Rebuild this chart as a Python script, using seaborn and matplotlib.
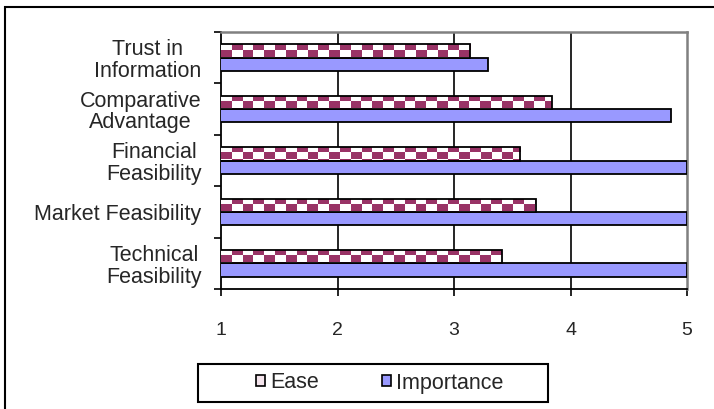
import numpy as np
import pandas as pd
import matplotlib
matplotlib.use("Agg")
import matplotlib.pyplot as plt
import seaborn as sns
from matplotlib.colors import ListedColormap
from matplotlib.patches import Patch, Rectangle

categories = ["Trust in\nInformation", "Comparative\nAdvantage", "Financial\nFeasibility",
              "Market Feasibility", "Technical\nFeasibility"]
ease = [3.14, 3.84, 3.57, 3.70, 3.41]
importance = [3.29, 4.86, 5.0, 5.0, 5.0]
series = ["Ease", "Importance"]
x_ticks = [1, 2, 3, 4, 5]

PURPLE = "#993366"
BLUE = "#9999FF"

df = pd.DataFrame({
    "cat": categories * 2,
    "val": ease + importance,
    "series": [series[0]] * len(categories) + [series[1]] * len(categories),
})

sns.set_style("white")
plt.rcParams["font.family"] = ["Liberation Sans", "DejaVu Sans"]

fig = plt.figure(figsize=(7.14, 4.09), dpi=100)
ax = fig.add_axes([221 / 714, 1 - 289 / 409, (687 - 221) / 714, (289 - 32) / 409])

sns.barplot(data=df, x="val", y="cat", hue="series", hue_order=series, order=categories,
            orient="h", palette=["white", BLUE], width=0.52, dodge=True,
            edgecolor="black", linewidth=1.3, saturation=1, errorbar=None,
            legend=False, ax=ax, zorder=3)

ax.set_xlim(1, 5)
ax.set_ylim(len(categories) - 0.5, -0.5)

# checker pattern for Ease bars
cmap = ListedColormap(["white", PURPLE])
pu = 10.8 / 116.5   # checker cell width in data units
pv = 6.2 / 51.4     # checker cell height in data units
for bar in ax.containers[0]:
    bar.set_facecolor("none")
    bar.set_zorder(4)
    x0 = 1.0
    w = bar.get_x() + bar.get_width()
    y0 = bar.get_y()
    h = bar.get_height()
    ncol = int(np.ceil((w - x0) / pu)) + 1
    nrow = int(np.ceil(h / pv)) + 1
    ii, jj = np.indices((nrow, ncol))
    checker = ((ii + jj) % 2).astype(float)
    im = ax.imshow(checker, cmap=cmap, vmin=0, vmax=1, interpolation="nearest", aspect="auto",
                   extent=(x0, x0 + ncol * pu, y0 + nrow * pv, y0), zorder=3.5)
    im.set_clip_path(bar)

ax.set_xlim(1, 5)
ax.set_ylim(len(categories) - 0.5, -0.5)
ax.set_xlabel("")
ax.set_ylabel("")

ax.set_xticks(x_ticks)
ax.set_xticklabels([str(t) for t in x_ticks], fontsize=14)
ax.tick_params(axis="x", direction="out", length=5, width=1.2, color="black", pad=19,
               bottom=True)

ax.set_yticks(np.arange(-0.5, len(categories)), minor=False)
ax.set_yticklabels([], minor=False)
ax.set_yticks(np.arange(len(categories)), minor=True)
ax.set_yticklabels(categories, minor=True, fontsize=15.5)
for lbl in ax.get_yticklabels(minor=True):
    lbl.set_multialignment("center")
    lbl.set_linespacing(1.05)
ax.tick_params(axis="y", which="major", direction="out", length=5, width=1.2, color="black", left=True)
ax.tick_params(axis="y", which="minor", length=0, pad=14)

for v in x_ticks[1:-1]:
    ax.axvline(v, color="black", lw=1.2, zorder=1)

for s in ["left", "bottom"]:
    ax.spines[s].set_color("black")
    ax.spines[s].set_linewidth(1.3)
for s in ["top", "right"]:
    ax.spines[s].set_color("#808080")
    ax.spines[s].set_linewidth(1.8)

# legend
handles = [Patch(facecolor="#f4e4ec", edgecolor="black", linewidth=1.2, label=series[0]),
           Patch(facecolor=BLUE, edgecolor="black", linewidth=1.2, label=series[1])]
leg = fig.legend(handles=handles, ncol=2, loc="center left",
                 bbox_to_anchor=(256 / 714, 1 - 383 / 409), frameon=False, fontsize=15.5,
                 handlelength=0.42, handleheight=0.42, handletextpad=0.25, columnspacing=2.9,
                 borderpad=0, borderaxespad=0)
fig.add_artist(Rectangle((198 / 714, 1 - 402 / 409), (548 - 198) / 714, (402 - 364) / 409,
                         transform=fig.transFigure, fill=False, edgecolor="black", lw=1.5))
# outer chart frame
fig.add_artist(Rectangle((5 / 714, -0.05), 1.2, 1 - 7 / 409 + 0.05,
                         transform=fig.transFigure, fill=False, edgecolor="black", lw=1.5))

fig.savefig("out.png", dpi=100)
